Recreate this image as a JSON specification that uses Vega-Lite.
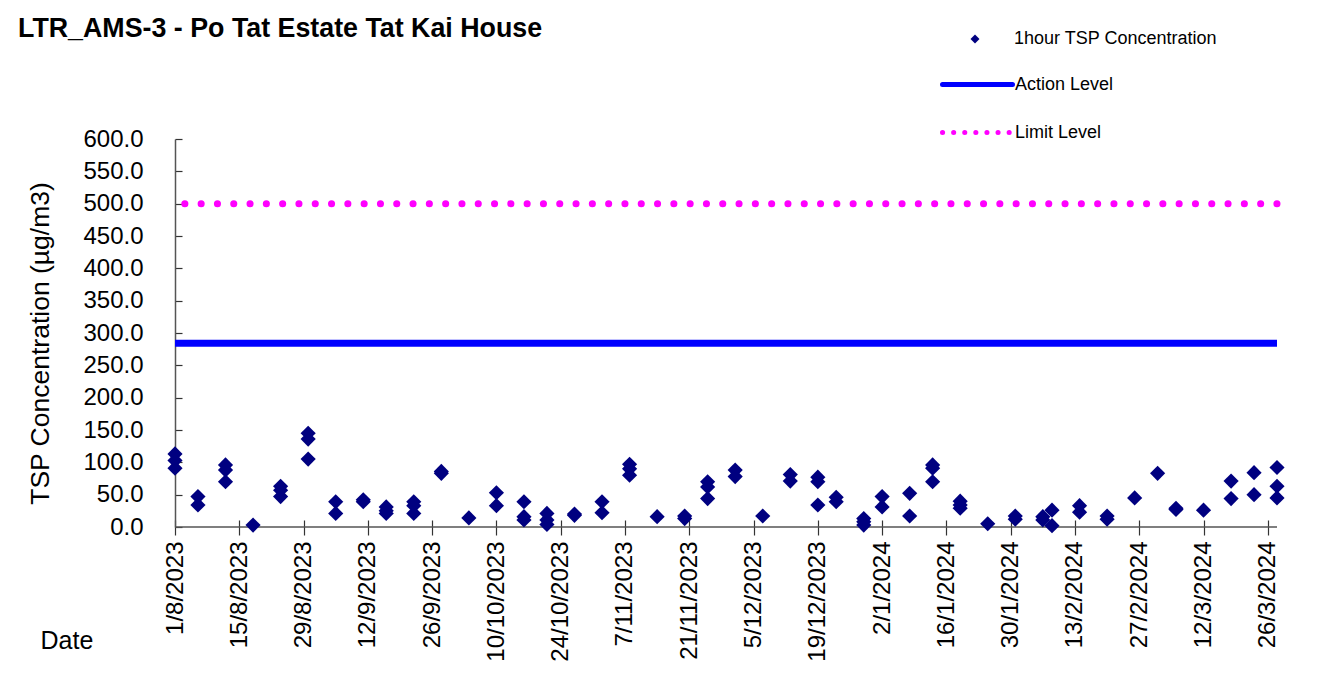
{
  "$schema": "https://vega.github.io/schema/vega-lite/v6.json",
  "width": 1102,
  "height": 388,
  "autosize": {"type": "none"},
  "padding": {"left": 175, "top": 139, "right": 40, "bottom": 146},
  "background": "white",
  "config": {"font": "Liberation Sans", "view": {"stroke": null}},
  "title": {"text": "LTR_AMS-3 - Po Tat Estate Tat Kai House", "anchor": "start", "frame": "group", "fontSize": 26.8, "fontWeight": "bold", "color": "black", "dx": -157, "dy": 13, "offset": 0},
  "encoding": {
    "y": {"field": "value", "type": "quantitative",
      "scale": {"domain": [0, 600], "nice": false},
      "axis": {
        "values": [0, 50, 100, 150, 200, 250, 300, 350, 400, 450, 500, 550, 600],
        "format": ".1f", "labelFontSize": 24, "labelColor": "black", "tickSize": -7, "labelPadding": 39, "labelOverlap": false,
        "domainColor": "#555555", "domainWidth": 1.5, "tickColor": "#333333", "tickWidth": 1.2, "grid": false,
        "title": "TSP Concentration (µg/m3)", "titleFontSize": 26.5, "titleFontWeight": "normal", "titleColor": "black",
        "titleAngle": 270, "titleX": -135, "titleY": 204, "titleAlign": "center", "titleBaseline": "middle"
      }
    }
  },
  "layer": [
    {
      "data": {"values": [{"value": 0}]},
      "mark": {"type": "rule", "color": "#555555", "strokeWidth": 1.5},
      "encoding": {}
    },
    {
      "data": {"values": [{"level": "Action Level", "value": 284}]},
      "mark": {"type": "rule", "strokeWidth": 7},
      "encoding": {
        "stroke": {"field": "level", "type": "nominal",
          "scale": {"domain": ["Action Level", "Limit Level"], "range": ["#0000FF", "#FF00FF"]},
          "legend": {"title": null, "orient": "none", "legendX": 765, "legendY": -92, "symbolType": "stroke", "symbolSize": 4900, "symbolStrokeWidth": 5, "labelFontSize": 18, "labelOffset": 0, "labelLimit": 400, "labelColor": "black", "rowPadding": -25, "padding": 0,
            "encode": {"symbols": {"update": {"strokeDash": {"signal": "datum.value === 'Limit Level' ? [0.1, 11] : [1, 0]"}, "strokeCap": {"value": "round"}}}}}
        }
      }
    },
    {
      "data": {"values": [{"level": "Limit Level", "value": 500}]},
      "mark": {"type": "rule", "strokeWidth": 7, "strokeDash": [0.1, 16.2], "strokeCap": "round"},
      "encoding": {
        "stroke": {"field": "level", "type": "nominal"}
      }
    },
    {
      "data": {"values": [
        {"date": "2023-08-01", "value": 113}, {"date": "2023-08-01", "value": 103}, {"date": "2023-08-01", "value": 91},
        {"date": "2023-08-06", "value": 47}, {"date": "2023-08-06", "value": 34},
        {"date": "2023-08-12", "value": 96}, {"date": "2023-08-12", "value": 88}, {"date": "2023-08-12", "value": 70},
        {"date": "2023-08-18", "value": 3},
        {"date": "2023-08-24", "value": 63}, {"date": "2023-08-24", "value": 57}, {"date": "2023-08-24", "value": 47},
        {"date": "2023-08-30", "value": 145}, {"date": "2023-08-30", "value": 136}, {"date": "2023-08-30", "value": 105},
        {"date": "2023-09-05", "value": 39}, {"date": "2023-09-05", "value": 21},
        {"date": "2023-09-11", "value": 42}, {"date": "2023-09-11", "value": 39},
        {"date": "2023-09-16", "value": 31}, {"date": "2023-09-16", "value": 25}, {"date": "2023-09-16", "value": 21},
        {"date": "2023-09-22", "value": 39}, {"date": "2023-09-22", "value": 33}, {"date": "2023-09-22", "value": 21},
        {"date": "2023-09-28", "value": 86}, {"date": "2023-09-28", "value": 83},
        {"date": "2023-10-04", "value": 14},
        {"date": "2023-10-10", "value": 53}, {"date": "2023-10-10", "value": 33},
        {"date": "2023-10-16", "value": 39}, {"date": "2023-10-16", "value": 16}, {"date": "2023-10-16", "value": 11},
        {"date": "2023-10-21", "value": 21}, {"date": "2023-10-21", "value": 11}, {"date": "2023-10-21", "value": 4},
        {"date": "2023-10-27", "value": 20}, {"date": "2023-10-27", "value": 18},
        {"date": "2023-11-02", "value": 39}, {"date": "2023-11-02", "value": 22},
        {"date": "2023-11-08", "value": 97}, {"date": "2023-11-08", "value": 90}, {"date": "2023-11-08", "value": 80},
        {"date": "2023-11-14", "value": 16},
        {"date": "2023-11-20", "value": 17}, {"date": "2023-11-20", "value": 13},
        {"date": "2023-11-25", "value": 70}, {"date": "2023-11-25", "value": 62}, {"date": "2023-11-25", "value": 44},
        {"date": "2023-12-01", "value": 88}, {"date": "2023-12-01", "value": 78},
        {"date": "2023-12-07", "value": 17},
        {"date": "2023-12-13", "value": 81}, {"date": "2023-12-13", "value": 71},
        {"date": "2023-12-19", "value": 77}, {"date": "2023-12-19", "value": 70}, {"date": "2023-12-19", "value": 34},
        {"date": "2023-12-23", "value": 46}, {"date": "2023-12-23", "value": 39},
        {"date": "2023-12-29", "value": 13}, {"date": "2023-12-29", "value": 8}, {"date": "2023-12-29", "value": 3},
        {"date": "2024-01-02", "value": 47}, {"date": "2024-01-02", "value": 31},
        {"date": "2024-01-08", "value": 52}, {"date": "2024-01-08", "value": 17},
        {"date": "2024-01-13", "value": 96}, {"date": "2024-01-13", "value": 91}, {"date": "2024-01-13", "value": 70},
        {"date": "2024-01-19", "value": 40}, {"date": "2024-01-19", "value": 34}, {"date": "2024-01-19", "value": 29},
        {"date": "2024-01-25", "value": 5},
        {"date": "2024-01-31", "value": 17}, {"date": "2024-01-31", "value": 12},
        {"date": "2024-02-06", "value": 16}, {"date": "2024-02-06", "value": 11},
        {"date": "2024-02-08", "value": 26}, {"date": "2024-02-08", "value": 2},
        {"date": "2024-02-14", "value": 33}, {"date": "2024-02-14", "value": 23},
        {"date": "2024-02-20", "value": 17}, {"date": "2024-02-20", "value": 12},
        {"date": "2024-02-26", "value": 45},
        {"date": "2024-03-02", "value": 83},
        {"date": "2024-03-06", "value": 29}, {"date": "2024-03-06", "value": 27},
        {"date": "2024-03-12", "value": 26},
        {"date": "2024-03-18", "value": 71}, {"date": "2024-03-18", "value": 44},
        {"date": "2024-03-23", "value": 84}, {"date": "2024-03-23", "value": 50},
        {"date": "2024-03-28", "value": 92}, {"date": "2024-03-28", "value": 63}, {"date": "2024-03-28", "value": 45}
      ]},
      "mark": {"type": "point", "shape": "diamond", "filled": true, "size": 230, "opacity": 1},
      "encoding": {
        "x": {"field": "date", "type": "temporal",
          "scale": {"type": "utc", "domain": [{"year": 2023, "month": 8, "date": 1, "utc": true}, {"year": 2024, "month": 3, "date": 28, "utc": true}]},
          "axis": {
            "values": [
              {"year": 2023, "month": 8, "date": 1, "utc": true},
              {"year": 2023, "month": 8, "date": 15, "utc": true},
              {"year": 2023, "month": 8, "date": 29, "utc": true},
              {"year": 2023, "month": 9, "date": 12, "utc": true},
              {"year": 2023, "month": 9, "date": 26, "utc": true},
              {"year": 2023, "month": 10, "date": 10, "utc": true},
              {"year": 2023, "month": 10, "date": 24, "utc": true},
              {"year": 2023, "month": 11, "date": 7, "utc": true},
              {"year": 2023, "month": 11, "date": 21, "utc": true},
              {"year": 2023, "month": 12, "date": 5, "utc": true},
              {"year": 2023, "month": 12, "date": 19, "utc": true},
              {"year": 2024, "month": 1, "date": 2, "utc": true},
              {"year": 2024, "month": 1, "date": 16, "utc": true},
              {"year": 2024, "month": 1, "date": 30, "utc": true},
              {"year": 2024, "month": 2, "date": 13, "utc": true},
              {"year": 2024, "month": 2, "date": 27, "utc": true},
              {"year": 2024, "month": 3, "date": 12, "utc": true},
              {"year": 2024, "month": 3, "date": 26, "utc": true}
            ],
            "labelExpr": "utcFormat(datum.value, '%-d/%-m/%Y')",
            "labelAngle": -90, "labelFontSize": 24, "labelColor": "black", "labelPadding": 6, "labelOverlap": false,
            "tickSize": 15, "tickColor": "#333333", "tickWidth": 1.2, "offset": -7, "domain": false, "grid": false,
            "title": "Date", "titleFontSize": 25, "titleFontWeight": "normal", "titleColor": "black",
            "titleAnchor": "start", "titleAlign": "left", "titleBaseline": "alphabetic", "titleX": -135, "titleY": 128
          }
        },
        "color": {"datum": "1hour TSP Concentration", "type": "nominal",
          "scale": {"domain": ["1hour TSP Concentration"], "range": ["#000080"]},
          "legend": {"title": null, "orient": "none", "legendX": 791, "legendY": -109, "symbolType": "diamond", "symbolSize": 80, "labelFontSize": 18, "labelOffset": 30, "labelLimit": 400, "labelColor": "black", "padding": 0}
        }
      }
    }
  ]
}
